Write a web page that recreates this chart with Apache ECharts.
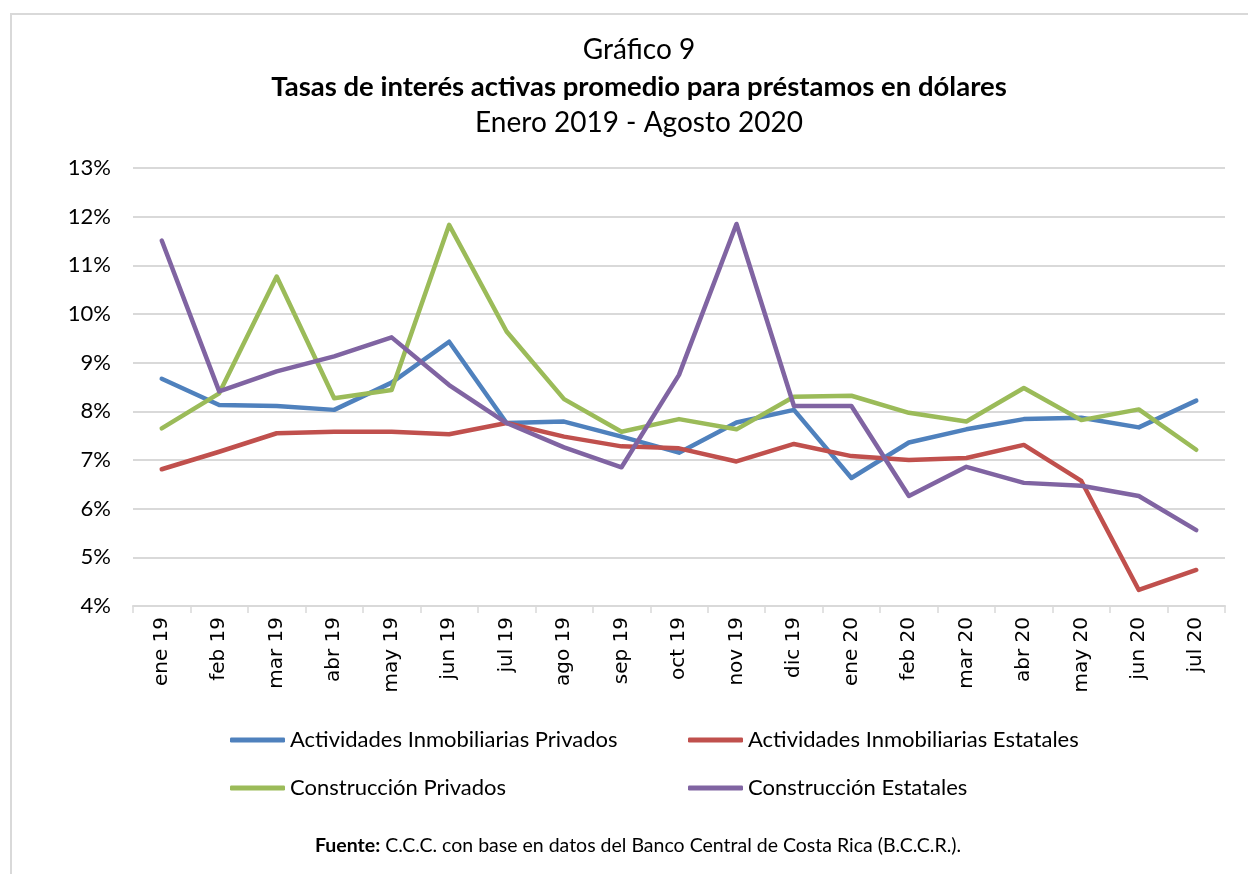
<!DOCTYPE html>
<html>
<head>
<meta charset="utf-8">
<script src="https://cdn.jsdelivr.net/npm/echarts@6/dist/echarts.min.js"></script>
<style>
    html, body { margin: 0; padding: 0; background: #fff; }
    #chart { width: 1248px; height: 874px; }
</style>
</head>
<body>
<div id="chart"></div>
<script>
const meses = ['ene 19', 'feb 19', 'mar 19', 'abr 19', 'may 19', 'jun 19', 'jul 19', 'ago 19', 'sep 19', 'oct 19',
    'nov 19', 'dic 19', 'ene 20', 'feb 20', 'mar 20', 'abr 20', 'may 20', 'jun 20', 'jul 20'];

// tasas en %
const inmobPrivados = [8.67, 8.13, 8.11, 8.03, 8.59, 9.43, 7.76, 7.79, 7.48, 7.15, 7.77, 8.03, 6.63, 7.36, 7.63, 7.84, 7.87, 7.67, 8.22];
const inmobEstatales = [6.81, 7.17, 7.55, 7.58, 7.58, 7.53, 7.76, 7.48, 7.28, 7.24, 6.97, 7.33, 7.08, 7.00, 7.04, 7.31, 6.57, 4.33, 4.74];
const construPrivados = [7.65, 8.37, 10.77, 8.27, 8.44, 11.83, 9.64, 8.25, 7.58, 7.84, 7.63, 8.30, 8.32, 7.97, 7.79, 8.48, 7.82, 8.04, 7.21];
const construEstatales = [11.51, 8.41, 8.82, 9.13, 9.52, 8.54, 7.76, 7.26, 6.85, 8.75, 11.85, 8.11, 8.11, 6.26, 6.86, 6.53, 6.47, 6.26, 5.56];

const nombres = ['Actividades Inmobiliarias Privados', 'Actividades Inmobiliarias Estatales',
    'Construcción Privados', 'Construcción Estatales'];
const colores = ['#4f81bd', '#c0504d', '#9bbb59', '#8064a2'];

const fuente = 'Lato';
const chart = echarts.init(document.getElementById('chart'));

function serie(i, data) {
    return {
        name: nombres[i],
        type: 'line',
        data: data,
        symbol: 'none',
        lineStyle: {width: 4.5, color: colores[i], cap: 'round', join: 'round'},
        itemStyle: {color: colores[i]}
    };
}

/* una leyenda por serie, para fijar las columnas */
const posLeyenda = [[230, 729], [688, 729], [230, 777], [688, 777]];
const leyendas = nombres.map(function (n, i) {
    return {
        data: [n],
        left: posLeyenda[i][0],
        top: posLeyenda[i][1],
        icon: 'roundRect',
        itemWidth: 55,
        itemHeight: 5,
        itemGap: 0,
        padding: 0,
        textStyle: {fontFamily: fuente, fontSize: 22, color: '#000'}
    };
});

chart.setOption({
    animation: false,
    backgroundColor: '#fff',
    title: [
        {
            text: 'Gráfico 9', left: 634, textAlign: 'center', top: 31,
            textStyle: {fontFamily: fuente, fontSize: 28, fontWeight: 'normal', color: '#000'}
        },
        {
            text: 'Tasas de interés activas promedio para préstamos en dólares', left: 634, textAlign: 'center', top: 68,
            textStyle: {fontFamily: fuente, fontSize: 27.5, fontWeight: 'bold', color: '#000'}
        },
        {
            text: 'Enero 2019 - Agosto 2020', left: 634, textAlign: 'center', top: 104,
            textStyle: {fontFamily: fuente, fontSize: 28, fontWeight: 'normal', color: '#000'}
        }
    ],
    legend: leyendas,
    grid: {left: 133, right: 23, top: 168, bottom: 268, containLabel: false},
    xAxis: {
        type: 'category',
        data: meses,
        boundaryGap: true,
        axisLine: {lineStyle: {color: '#d9d9d9', width: 2}},
        axisTick: {show: true, length: 7, lineStyle: {color: '#d9d9d9', width: 1.5}},
        axisLabel: {rotate: 90, fontFamily: 'DejaVu Sans', fontSize: 20, color: '#000', margin: 11, interval: 0}
    },
    yAxis: {
        type: 'value',
        min: 4,
        max: 13,
        interval: 1,
        axisLine: {show: false},
        axisTick: {show: false},
        splitLine: {lineStyle: {color: '#d9d9d9', width: 2}},
        axisLabel: {
            fontFamily: fuente, fontSize: 22, color: '#000', margin: 22,
            formatter: function (v) { return v + '%'; }
        }
    },
    series: [
        serie(0, inmobPrivados),
        serie(1, inmobEstatales),
        serie(2, construPrivados),
        serie(3, construEstatales)
    ],
    graphic: [
        {
            type: 'polyline',
            shape: {points: [[11, 880], [11, 14], [1260, 14]]},
            style: {stroke: '#d9d9d9', lineWidth: 2, fill: null}
        },
        {
            type: 'text',
            x: 638,
            y: 846,
            style: {
                text: '{b|Fuente:} C.C.C. con base en datos del Banco Central de Costa Rica (B.C.C.R.).',
                font: '19.5px ' + fuente,
                fill: '#000',
                align: 'center',
                verticalAlign: 'middle',
                rich: {b: {fontFamily: fuente, fontSize: 19.5, fontWeight: 'bold', fill: '#000'}}
            }
        }
    ]
});
</script>
</body>
</html>
